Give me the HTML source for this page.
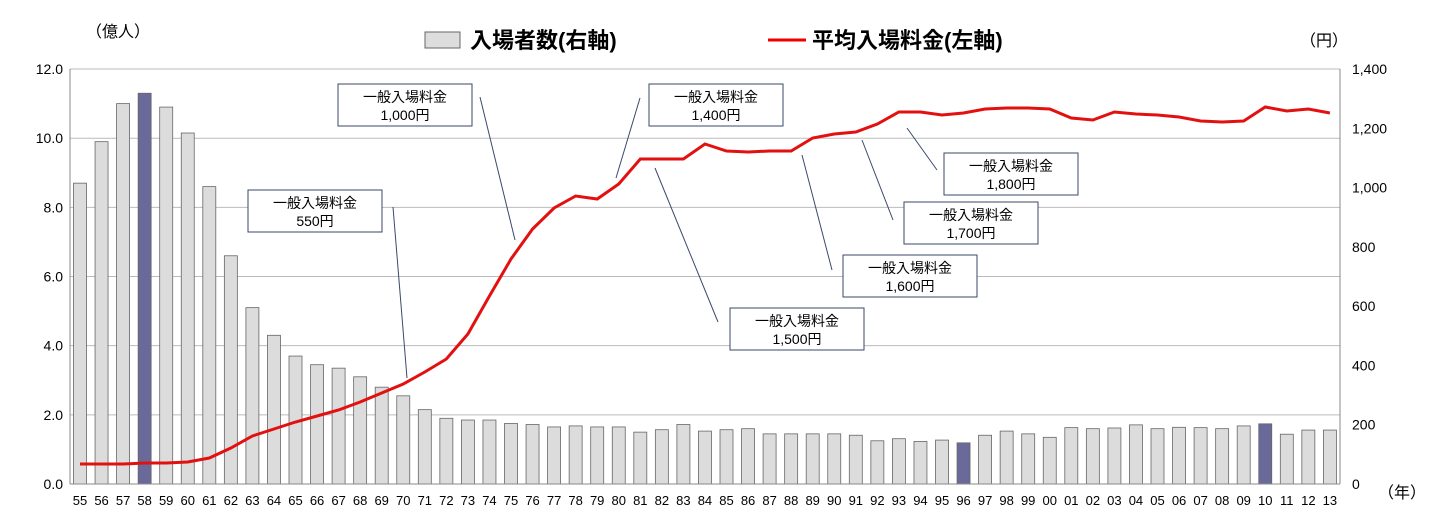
<!DOCTYPE html>
<html><head><meta charset="utf-8"><style>
body{margin:0;background:#fff}
svg text{font-family:"Liberation Sans","Noto Sans CJK JP",sans-serif;fill:#000}
</style></head><body>
<svg width="1436" height="514" xmlns="http://www.w3.org/2000/svg">
<g id="grid" stroke="#bbb" stroke-width="1"></g>
<g id="bars"></g>
<g id="xl" font-size="13"></g>
<line x1="70" y1="69" x2="70" y2="484" stroke="#888"/>
<line x1="1340" y1="69" x2="1340" y2="484" stroke="#888"/>
<line x1="70" y1="484" x2="1340" y2="484" stroke="#888"/>
<g font-size="14" text-anchor="end" id="yl"></g>
<g font-size="14" text-anchor="start" id="yr"></g>
<text x="86" y="37" font-size="16">（億人）</text>
<text x="1300" y="46" font-size="16">（円）</text>
<text x="1378" y="498" font-size="16">（年）</text>
<rect x="425" y="32" width="35" height="16" fill="#ddd" stroke="#666"/>
<text x="470" y="48" font-size="22" font-weight="bold">入場者数(右軸)</text>
<line x1="768" y1="40" x2="806" y2="40" stroke="#e00" stroke-width="3"/>
<text x="812" y="48" font-size="22" font-weight="bold">平均入場料金(左軸)</text>
<polyline id="ln" fill="none" stroke="#e31010" stroke-width="3"/>
<g id="call" stroke="#3a4a6a" stroke-width="1"></g>
</svg>
<script>
var ns="http://www.w3.org/2000/svg";
function el(p,t,a,txt){var e=document.createElementNS(ns,t);for(var k in a)e.setAttribute(k,a[k]);if(txt)e.textContent=txt;document.getElementById(p).appendChild(e);return e;}
var y0=484,pu=34.58;
for(var i=1;i<=6;i++){var y=y0-i*2*pu;el("grid","line",{x1:70,x2:1340,y1:y,y2:y});}
for(var i=0;i<=6;i++){var y=y0-i*2*pu;el("yl","text",{x:63,y:y+5},(i*2).toFixed(1));}
for(var i=0;i<=7;i++){var y=y0-i*415/7;el("yr","text",{x:1352,y:y+5},i==0?"0":(i*200).toLocaleString("en"));}
var b=[8.7,9.9,11.0,11.3,10.9,10.15,8.6,6.6,5.1,4.3,3.7,3.45,3.35,3.1,2.8,2.55,2.15,1.9,1.85,1.85,1.75,1.72,1.65,1.68,1.65,1.65,1.5,1.57,1.72,1.53,1.57,1.6,1.45,1.45,1.45,1.45,1.41,1.25,1.31,1.23,1.27,1.19,1.41,1.53,1.45,1.35,1.63,1.6,1.62,1.71,1.6,1.64,1.63,1.6,1.68,1.74,1.44,1.56,1.56];
var L=[464,464,464,463,463,462,458,448,436,429,422,416,410,402,393,384,372,359,334,296,259,229,208,196,199,184,159,159,159,144,151,152,151,151,138,134,132,124,112,112,115,113,109,108,108,109,118,120,112,114,115,117,121,122,121,107,111,109,113];
var dark={3:1,41:1,55:1},pts=[];
for(var i=0;i<59;i++){var x=80+i*21.55;var h=b[i]*pu;
el("bars","rect",{x:x-6.5,y:y0-h,width:13,height:h,fill:dark[i]?"#6a6a9a":"#dcdcdc",stroke:"#666","stroke-width":0.8});
var yr=(55+i)%100;el("xl","text",{x:x,y:505,"text-anchor":"middle"},(yr<10?"0":"")+yr);
pts.push(x+","+L[i]);}
document.getElementById("ln").setAttribute("points",pts.join(" "));
var C=[[338,84,"1,000円",480,97,515,240],[248,190,"550円",393,207,407,378],[649,84,"1,400円",640,98,616,178],[730,308,"1,500円",655,168,718,322],[843,255,"1,600円",802,155,832,270],[904,202,"1,700円",862,140,893,220],[944,153,"1,800円",907,128,937,170]];
C.forEach(function(c){el("call","line",{x1:c[3],y1:c[4],x2:c[5],y2:c[6]});
el("call","rect",{x:c[0],y:c[1],width:134,height:42,fill:"#fff"});
el("call","text",{x:c[0]+67,y:c[1]+18,"text-anchor":"middle","font-size":14,stroke:"none"},"一般入場料金");
el("call","text",{x:c[0]+67,y:c[1]+36,"text-anchor":"middle","font-size":14,stroke:"none"},c[2]);});
</script>
</body></html>
